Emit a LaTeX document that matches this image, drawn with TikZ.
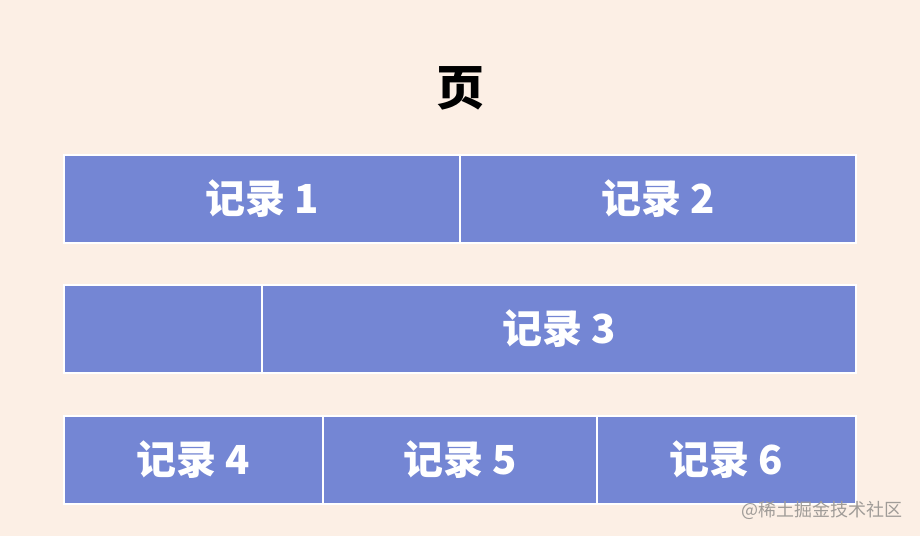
\documentclass[tikz,border=0pt]{standalone}
\usepackage{fontspec}
\setmainfont{Noto Sans CJK SC}
\definecolor{bgc}{HTML}{FCEFE5}
\definecolor{boxc}{HTML}{7486D4}
\definecolor{wmc}{HTML}{A09C98}
\begin{document}
\begin{tikzpicture}[x=1pt,y=-1pt,
  rec/.style={draw=white,line width=1.8pt,fill=boxc,inner sep=0pt,text=white,font=\fontsize{40}{40}\selectfont\bfseries},
]
\fill[bgc] (0,0) rectangle (920,536);
\useasboundingbox (0,0) rectangle (920,536);
\node[font=\fontsize{48}{48}\selectfont\bfseries] (title) at (460,88) {页};
% row 1
\path[rec] (64,155) rectangle node (r1) {记录 1} (460,243);
\path[rec] (460,155) rectangle node (r2) {记录 2} (856,243);
% row 2
\path[rec] (64,285) rectangle (262,373);
\path[rec] (262,285) rectangle node (r3) {记录 3} (856,373);
% row 3
\path[rec] (64,416) rectangle node (r4) {记录 4} (323,504);
\path[rec] (323,416) rectangle node (r5) {记录 5} (597,504);
\path[rec] (597,416) rectangle node (r6) {记录 6} (856,504);
\node[anchor=east,text=wmc,font=\fontsize{18}{18}\selectfont,inner sep=0pt] (wm) at (903,510) {@稀土掘金技术社区};
\end{tikzpicture}
\end{document}
